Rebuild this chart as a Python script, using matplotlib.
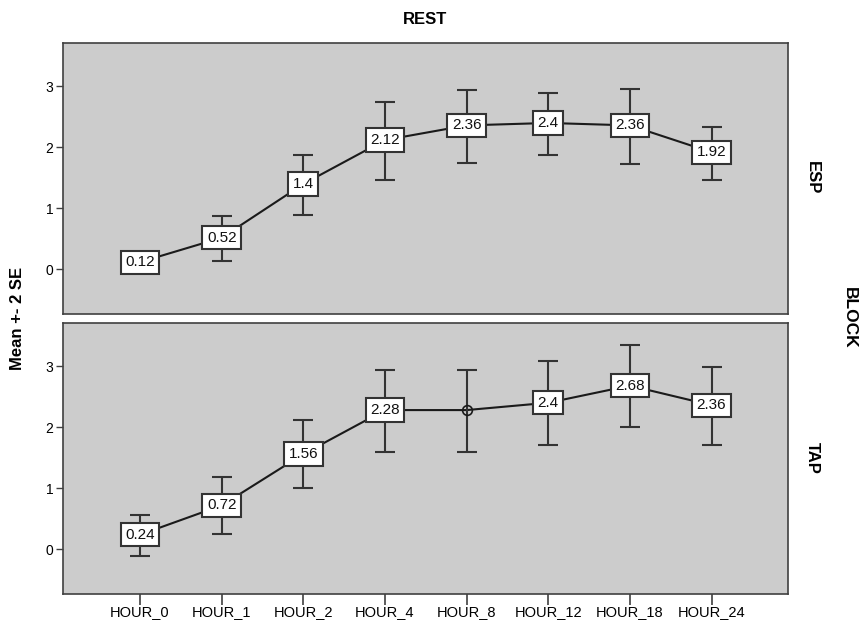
import matplotlib
matplotlib.use("Agg")
import matplotlib.pyplot as plt
import numpy as np

plt.rcParams['font.family'] = ['Liberation Sans', 'DejaVu Sans']

hours = ["HOUR_0", "HOUR_1", "HOUR_2", "HOUR_4", "HOUR_8", "HOUR_12", "HOUR_18", "HOUR_24"]

esp_mean = [0.12, 0.52, 1.40, 2.12, 2.36, 2.40, 2.36, 1.92]
esp_low = [0.12, 0.14, 0.90, 1.47, 1.75, 1.88, 1.73, 1.47]
esp_high = [0.12, 0.88, 1.87, 2.75, 2.94, 2.89, 2.95, 2.34]
esp_labels = ["0.12", "0.52", "1.4", "2.12", "2.36", "2.4", "2.36", "1.92"]

tap_mean = [0.24, 0.72, 1.56, 2.28, 2.28, 2.40, 2.68, 2.36]
tap_low = [-0.10, 0.25, 1.00, 1.59, 1.60, 1.71, 2.01, 1.71]
tap_high = [0.56, 1.18, 2.11, 2.94, 2.94, 3.08, 3.34, 2.99]
tap_labels = ["0.24", "0.72", "1.56", "2.28", None, "2.4", "2.68", "2.36"]

W, H = 859, 622
fig = plt.figure(figsize=(W / 100, H / 100), dpi=100)

bg = "#cccccc"
edge = "#404040"

ax1 = fig.add_axes([63.3 / W, 1 - 314 / H, 725 / W, 271 / H])
ax2 = fig.add_axes([63.3 / W, 1 - 594 / H, 725 / W, 271.3 / H])

def draw(ax, mean, low, high, labels, show_x):
    x = np.arange(len(mean))
    mean = np.array(mean)
    yerr = np.vstack([mean - np.array(low), np.array(high) - mean])
    ax.set_facecolor(bg)
    ax.plot(x, mean, color="#1a1a1a", lw=1.5, zorder=2)
    ax.errorbar(x, mean, yerr=yerr, fmt="none", ecolor="#333333", elinewidth=1.5,
                capsize=7.2, capthick=1.5, zorder=2)
    for xi, m, lab in zip(x, mean, labels):
        if lab is None:
            ax.plot([xi], [m], marker="o", ms=7, mfc="none", mec="#1a1a1a", mew=1.2, zorder=3)
        else:
            ax.text(xi, m, lab, ha="center", va="center", fontsize=11, color="#111111",
                    zorder=4,
                    bbox=dict(boxstyle="square,pad=0.3", fc="white", ec="#333333", lw=1.5))
    ax.set_xlim(-0.94, 7.94)
    ax.set_ylim(-0.73, 3.71)
    ax.set_yticks([0, 1, 2, 3])
    ax.set_yticklabels(["0", "1", "2", "3"], fontsize=10)
    ax.tick_params(axis="y", length=5, width=1, color=edge, pad=2)
    for s in ax.spines.values():
        s.set_color(edge)
        s.set_linewidth(1.2)
    if show_x:
        ax.set_xticks(x)
        ax.set_xticklabels(hours, fontsize=10.5)
        ax.tick_params(axis="x", length=8, width=1.2, color=edge, pad=0)
    else:
        ax.set_xticks([])

draw(ax1, esp_mean, esp_low, esp_high, esp_labels, False)
draw(ax2, tap_mean, tap_low, tap_high, tap_labels, True)

fig.text(425 / W, 1 - 20 / H, "REST", ha="center", va="center", fontsize=12, fontweight="bold")
fig.text(812 / W, 1 - 178 / H, "ESP", ha="center", va="center", rotation=-90, fontsize=12, fontweight="bold")
fig.text(812 / W, 1 - 458 / H, "TAP", ha="center", va="center", rotation=-90, fontsize=12, fontweight="bold")
fig.text(849 / W, 1 - 318 / H, "BLOCK", ha="center", va="center", rotation=-90, fontsize=12.5, fontweight="bold")
fig.text(18 / W, 1 - 318 / H, "Mean +- 2 SE", ha="center", va="center", rotation=90, fontsize=12, fontweight="bold")

fig.savefig("out.png", dpi=100, facecolor="white")
